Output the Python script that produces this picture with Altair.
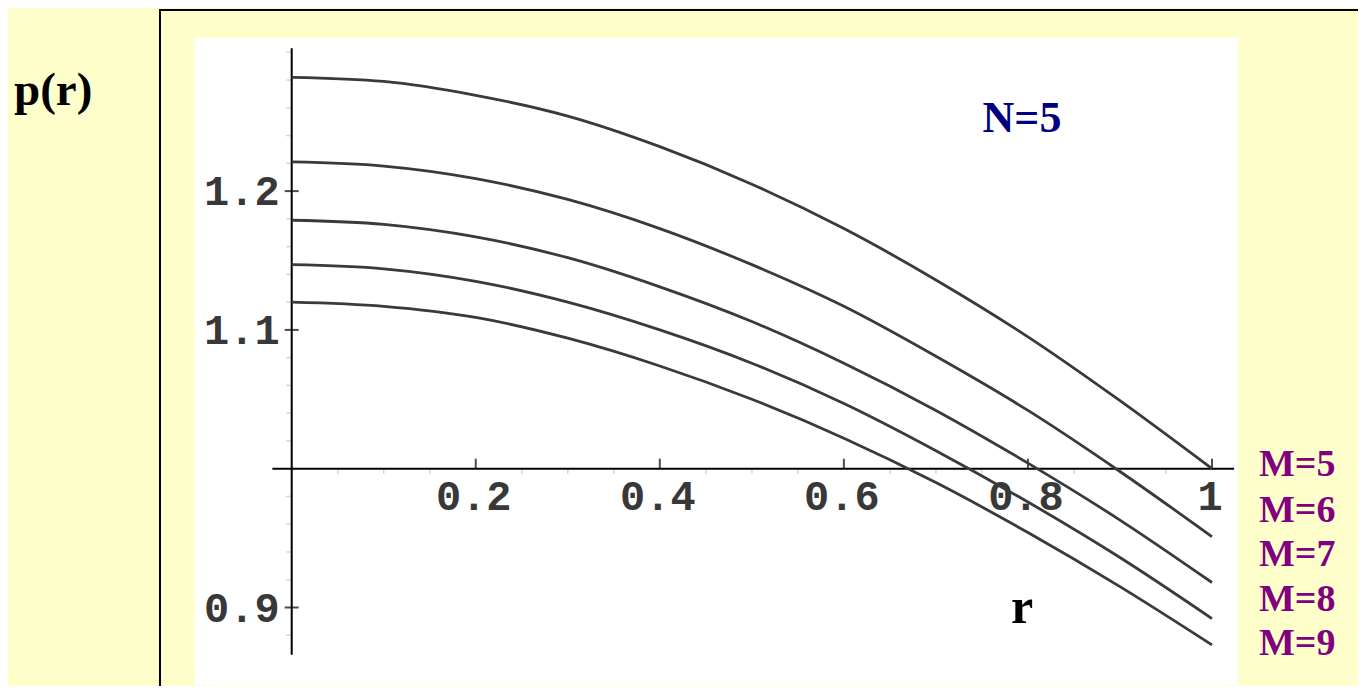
import altair as alt
import pandas as pd

# ---------------- data ----------------
r_vals = [0.0, 0.1, 0.2, 0.3, 0.4, 0.5, 0.6, 0.7, 0.8, 0.9, 1.0]
p_M5 = [1.282, 1.279, 1.269, 1.254, 1.232, 1.205, 1.173, 1.136, 1.095, 1.049, 1.000]
p_M6 = [1.221, 1.218, 1.209, 1.194, 1.173, 1.147, 1.117, 1.081, 1.042, 0.998, 0.951]
p_M7 = [1.179, 1.176, 1.167, 1.152, 1.131, 1.106, 1.076, 1.042, 1.004, 0.963, 0.918]
p_M8 = [1.147, 1.144, 1.135, 1.120, 1.100, 1.076, 1.047, 1.013, 0.976, 0.936, 0.892]
p_M9 = [1.120, 1.117, 1.109, 1.094, 1.074, 1.050, 1.022, 0.990, 0.954, 0.915, 0.873]
series_names = ["M=5", "M=6", "M=7", "M=8", "M=9"]
series_values = [p_M5, p_M6, p_M7, p_M8, p_M9]

x_tick_values = [0.2, 0.4, 0.6, 0.8, 1.0]
x_tick_labels = ["0.2", "0.4", "0.6", "0.8", "1"]
y_tick_values = [1.2, 1.1, 0.9]
y_tick_labels = ["1.2", "1.1", "0.9"]
x_minor = [0.05, 0.1, 0.15, 0.25, 0.3, 0.35, 0.45, 0.5, 0.55, 0.65, 0.7, 0.75, 0.85, 0.9, 0.95]
y_minor = [0.88, 0.92, 0.94, 0.96, 0.98, 1.02, 1.04, 1.06, 1.08, 1.12, 1.14, 1.16, 1.18, 1.22, 1.24, 1.26, 1.28, 1.30]
x_axis_extent = [-0.021, 1.024]
y_axis_extent = [0.866, 1.303]

title_y = "p(r)"
title_x = "r"
panel_label = "N=5"

# ---------------- build tables ----------------
rows = []
for name, vals in zip(series_names, series_values):
    for r, p in zip(r_vals, vals):
        rows.append({"r": r, "p": p, "M": name})
curves_df = pd.DataFrame(rows)

W, H = 1350, 678
M = 8  # page margin

xs = alt.Scale(domain=[0, 1], range=[291.7 - M, 1212 - M], nice=False, zero=False)
ys = alt.Scale(domain=[0.9, 1.2], range=[607.5 - M, 191.1 - M], nice=False, zero=False)

def X(f):
    return alt.X(f, type="quantitative", scale=xs, axis=None)

def Y(f):
    return alt.Y(f, type="quantitative", scale=ys, axis=None)

one = pd.DataFrame({"a": [0]})

white = alt.Chart(one).mark_rect(color="white").encode(
    x=alt.value(195 - M), x2=alt.value(1238 - M), y=alt.value(38 - M), y2=alt.value(685 - M)
)
frame_top = alt.Chart(one).mark_rule(color="black", strokeWidth=2).encode(
    x=alt.value(152), x2=alt.value(W + 5), y=alt.value(2)
)
frame_left = alt.Chart(one).mark_rule(color="black", strokeWidth=2).encode(
    x=alt.value(152), y=alt.value(1), y2=alt.value(H + 5)
)

# axes
yaxis_df = pd.DataFrame({"r": [0.0], "p1": [y_axis_extent[1]], "p2": [y_axis_extent[0]]})
xaxis_df = pd.DataFrame({"r1": [x_axis_extent[0]], "r2": [x_axis_extent[1]], "p": [1.0]})
y_axis = alt.Chart(yaxis_df).mark_rule(color="black", strokeWidth=2).encode(
    x=X("r"), y=Y("p1"), y2="p2"
)
x_axis = alt.Chart(xaxis_df).mark_rule(color="black", strokeWidth=2).encode(
    x=X("r1"), x2="r2", y=Y("p")
)

# ticks
yt_df = pd.DataFrame({"r": [0.0] * len(y_tick_values), "p": y_tick_values, "lab": y_tick_labels})
xt_df = pd.DataFrame({"r": x_tick_values, "p": [1.0] * len(x_tick_values), "lab": x_tick_labels})
y_ticks = alt.Chart(yt_df).mark_tick(orient="horizontal", size=14, thickness=2, color="black").encode(
    x=X("r"), y=Y("p")
)
x_ticks = alt.Chart(xt_df).mark_tick(orient="vertical", size=10, thickness=2, color="black", yOffset=-5).encode(
    x=X("r"), y=Y("p")
)
ym_df = pd.DataFrame({"r": [0.0] * len(y_minor), "p": y_minor})
xm_df = pd.DataFrame({"r": x_minor, "p": [1.0] * len(x_minor)})
y_minor_ticks = alt.Chart(ym_df).mark_tick(orient="horizontal", size=5, thickness=1.5, color="#c4c4c4", xOffset=-3).encode(
    x=X("r"), y=Y("p")
)
x_minor_ticks = alt.Chart(xm_df).mark_tick(orient="vertical", size=4, thickness=1.5, color="#c4c4c4", yOffset=3).encode(
    x=X("r"), y=Y("p")
)

lab_style = dict(font="Liberation Mono", fontSize=42, fontWeight="bold", color="#383838")
y_labels = alt.Chart(yt_df).mark_text(align="right", baseline="alphabetic", dx=-12, dy=14, **lab_style).encode(
    x=X("r"), y=Y("p"), text="lab:N"
)
x_labels = alt.Chart(xt_df).mark_text(align="center", baseline="alphabetic", dx=-2, dy=41, **lab_style).encode(
    x=X("r"), y=Y("p"), text="lab:N"
)

curves = alt.Chart(curves_df).mark_line(
    interpolate="monotone", color="#3a3a3a", strokeWidth=2.8
).encode(x=X("r"), y=Y("p"), detail="M:N")

serif = "Liberation Serif"
t_p = alt.Chart(one).mark_text(text=title_y, align="left", baseline="alphabetic", font=serif,
                               fontSize=47, fontWeight="bold", color="black").encode(
    x=alt.value(6), y=alt.value(97))
t_n = alt.Chart(one).mark_text(text=panel_label, align="center", baseline="alphabetic", font=serif,
                               fontSize=44, fontWeight="bold", color="#000080").encode(
    x=alt.value(1014), y=alt.value(124))
t_r = alt.Chart(one).mark_text(text=title_x, align="center", baseline="alphabetic", font=serif,
                               fontSize=50, fontWeight="bold", color="black").encode(
    x=alt.value(1014), y=alt.value(615))

m_layers = []
m_base = [468, 513.7, 558, 602.7, 647]
for name, yy in zip(series_names, m_base):
    m_layers.append(
        alt.Chart(one).mark_text(text=name, align="left", baseline="alphabetic", font=serif,
                                 fontSize=38, fontWeight="bold", color="#800080").encode(
            x=alt.value(1251), y=alt.value(yy))
    )

chart = alt.layer(
    white, frame_top, frame_left,
    y_minor_ticks, x_minor_ticks,
    y_axis, x_axis, y_ticks, x_ticks,
    y_labels, x_labels,
    curves,
    t_p, t_n, t_r, *m_layers
).properties(
    width=W, height=H, background="#FFFFCC", padding=0, autosize="none"
).configure_view(stroke=None)

chart.save("out.html", embed_options={"renderer": "svg", "actions": False})
